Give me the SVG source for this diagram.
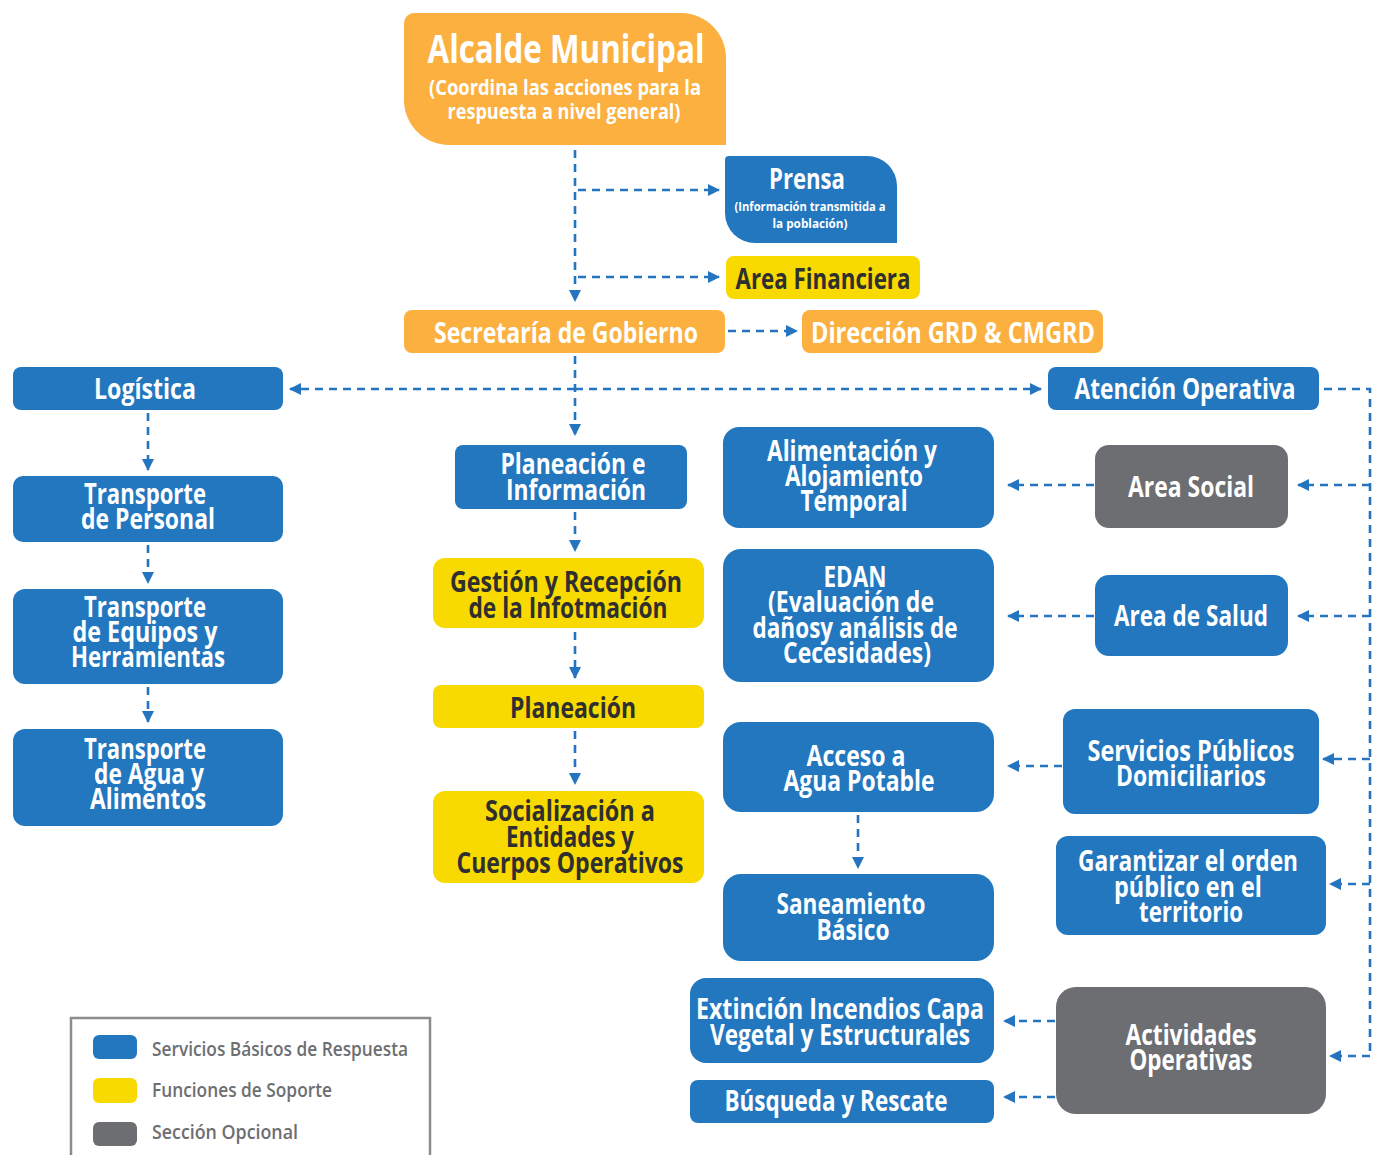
<svg xmlns="http://www.w3.org/2000/svg" width="1384" height="1155" viewBox="0 0 1384 1155">
<defs>
<style>
.t{font-family:"Open Sans","Noto Sans","DejaVu Sans",sans-serif;font-weight:700;text-anchor:middle;}
.w{fill:#ffffff;}
.d{fill:#2f2f2f;}
.f28{font-size:28px;}
.blue{fill:#2277bf;}
.orange{fill:#fbb040;}
.yellow{fill:#f8d900;}
.gray{fill:#6d6e71;}
.c{fill:none;stroke:#2474bf;stroke-width:2.6;stroke-dasharray:8 6;}
.leg{font-family:"Open Sans","Noto Sans","DejaVu Sans",sans-serif;font-weight:600;font-size:20px;fill:#6d6e71;}
</style>
<marker id="ah" markerUnits="userSpaceOnUse" markerWidth="12" markerHeight="12" refX="11" refY="6" orient="auto">
<path d="M0,0 L12,6 L0,12 Z" fill="#2474bf"/>
</marker>
</defs>
<rect width="1384" height="1155" fill="#ffffff"/>

<g id="connectors">
<path class="c" d="M575,150 V301" marker-end="url(#ah)"/>
<path class="c" d="M578,190 H719" marker-end="url(#ah)"/>
<path class="c" d="M578,277 H719" marker-end="url(#ah)"/>
<path class="c" d="M728,331 H797" marker-end="url(#ah)"/>
<path class="c" d="M575,356 V435" marker-end="url(#ah)"/>
<path class="c" d="M575,389 H290" marker-end="url(#ah)"/>
<path class="c" d="M575,389 H1041" marker-end="url(#ah)"/>
<path class="c" d="M1324,389 H1370 V1056"/>
<path class="c" d="M1370,485 H1298" marker-end="url(#ah)"/>
<path class="c" d="M1370,616 H1298" marker-end="url(#ah)"/>
<path class="c" d="M1370,759 H1323" marker-end="url(#ah)"/>
<path class="c" d="M1370,884 H1330" marker-end="url(#ah)"/>
<path class="c" d="M1370,1056 H1330" marker-end="url(#ah)"/>
<path class="c" d="M1094,485 H1008" marker-end="url(#ah)"/>
<path class="c" d="M1094,616 H1008" marker-end="url(#ah)"/>
<path class="c" d="M1062,766 H1008" marker-end="url(#ah)"/>
<path class="c" d="M858,815 V868" marker-end="url(#ah)"/>
<path class="c" d="M1055,1021 H1004" marker-end="url(#ah)"/>
<path class="c" d="M1055,1097 H1004" marker-end="url(#ah)"/>
<path class="c" d="M148,413 V470" marker-end="url(#ah)"/>
<path class="c" d="M148,545 V583" marker-end="url(#ah)"/>
<path class="c" d="M148,687 V722" marker-end="url(#ah)"/>
<path class="c" d="M575,512 V551" marker-end="url(#ah)"/>
<path class="c" d="M575,632 V678" marker-end="url(#ah)"/>
<path class="c" d="M575,731 V784" marker-end="url(#ah)"/>
</g>

<g id="alcalde">
<path class="orange" d="M414,13 H681 A45,45 0 0 1 726,58 V145 H449 A45,45 0 0 1 404,100 V23 A10,10 0 0 1 414,13 Z"/>
<text class="t w" x="566" y="63" font-size="39" textLength="277" lengthAdjust="spacingAndGlyphs">Alcalde Municipal</text>
<text class="t w" x="565" y="95" font-size="21" textLength="272" lengthAdjust="spacingAndGlyphs">(Coordina las acciones para la</text>
<text class="t w" x="564" y="119" font-size="21" textLength="233" lengthAdjust="spacingAndGlyphs">respuesta a nivel general)</text>
</g>

<g id="prensa">
<path class="blue" d="M729,156 H867 A30,30 0 0 1 897,186 V243 H755 A30,30 0 0 1 725,213 V160 A4,4 0 0 1 729,156 Z"/>
<text class="t w" x="807" y="189" font-size="28" textLength="76" lengthAdjust="spacingAndGlyphs">Prensa</text>
<text class="t w" x="810" y="211" font-size="13" textLength="151" lengthAdjust="spacingAndGlyphs">(Información transmitida a</text>
<text class="t w" x="810" y="228" font-size="13" textLength="75" lengthAdjust="spacingAndGlyphs">la población)</text>
</g>

<g id="area-financiera">
<rect class="yellow" x="726" y="256" width="194" height="43" rx="8"/>
<text class="t d f28" x="823" y="289" textLength="175" lengthAdjust="spacingAndGlyphs">Area Financiera</text>
</g>

<g id="secretaria">
<rect class="orange" x="404" y="310" width="321" height="43" rx="8"/>
<text class="t w f28" x="566" y="343" textLength="264" lengthAdjust="spacingAndGlyphs">Secretaría de Gobierno</text>
</g>

<g id="direccion">
<rect class="orange" x="802" y="310" width="301" height="43" rx="8"/>
<text class="t w f28" x="953" y="343" textLength="284" lengthAdjust="spacingAndGlyphs">Dirección GRD &amp; CMGRD</text>
</g>

<g id="logistica">
<rect class="blue" x="13" y="367" width="270" height="43" rx="8"/>
<text class="t w f28" x="145" y="399" textLength="102" lengthAdjust="spacingAndGlyphs">Logística</text>
</g>

<g id="atencion">
<rect class="blue" x="1048" y="367" width="271" height="43" rx="8"/>
<text class="t w f28" x="1185" y="399" textLength="221" lengthAdjust="spacingAndGlyphs">Atención Operativa</text>
</g>

<g id="planeacion-info">
<rect class="blue" x="455" y="445" width="232" height="64" rx="8"/>
<text class="t w f28" x="573" y="474" textLength="145" lengthAdjust="spacingAndGlyphs">Planeación e</text>
<text class="t w f28" x="576" y="500" textLength="140" lengthAdjust="spacingAndGlyphs">Información</text>
</g>

<g id="gestion">
<rect class="yellow" x="433" y="558" width="271" height="70" rx="12"/>
<text class="t d f28" x="566" y="592" textLength="232" lengthAdjust="spacingAndGlyphs">Gestión y Recepción</text>
<text class="t d f28" x="568" y="618" textLength="199" lengthAdjust="spacingAndGlyphs">de la Infotmación</text>
</g>

<g id="planeacion">
<rect class="yellow" x="433" y="685" width="271" height="43" rx="8"/>
<text class="t d f28" x="573" y="718" textLength="126" lengthAdjust="spacingAndGlyphs">Planeación</text>
</g>

<g id="socializacion">
<rect class="yellow" x="433" y="791" width="271" height="92" rx="12"/>
<text class="t d f28" x="570" y="821" textLength="170" lengthAdjust="spacingAndGlyphs">Socialización a</text>
<text class="t d f28" x="570" y="847" textLength="128" lengthAdjust="spacingAndGlyphs">Entidades y</text>
<text class="t d f28" x="570" y="873" textLength="227" lengthAdjust="spacingAndGlyphs">Cuerpos Operativos</text>
</g>

<g id="transporte-personal">
<rect class="blue" x="13" y="476" width="270" height="66" rx="10"/>
<text class="t w f28" x="145" y="504" textLength="122" lengthAdjust="spacingAndGlyphs">Transporte</text>
<text class="t w f28" x="148" y="529" textLength="134" lengthAdjust="spacingAndGlyphs">de Personal</text>
</g>

<g id="transporte-equipos">
<rect class="blue" x="13" y="589" width="270" height="95" rx="12"/>
<text class="t w f28" x="145" y="617" textLength="122" lengthAdjust="spacingAndGlyphs">Transporte</text>
<text class="t w f28" x="145" y="642" textLength="145" lengthAdjust="spacingAndGlyphs">de Equipos y</text>
<text class="t w f28" x="148" y="667" textLength="154" lengthAdjust="spacingAndGlyphs">Herramientas</text>
</g>

<g id="transporte-agua">
<rect class="blue" x="13" y="729" width="270" height="97" rx="12"/>
<text class="t w f28" x="145" y="759" textLength="122" lengthAdjust="spacingAndGlyphs">Transporte</text>
<text class="t w f28" x="149" y="784" textLength="110" lengthAdjust="spacingAndGlyphs">de Agua y</text>
<text class="t w f28" x="148" y="809" textLength="116" lengthAdjust="spacingAndGlyphs">Alimentos</text>
</g>

<g id="alimentacion">
<rect class="blue" x="723" y="427" width="271" height="101" rx="16"/>
<text class="t w f28" x="852" y="461" textLength="170" lengthAdjust="spacingAndGlyphs">Alimentación y</text>
<text class="t w f28" x="854" y="486" textLength="138" lengthAdjust="spacingAndGlyphs">Alojamiento</text>
<text class="t w f28" x="854" y="511" textLength="107" lengthAdjust="spacingAndGlyphs">Temporal</text>
</g>

<g id="edan">
<rect class="blue" x="723" y="549" width="271" height="133" rx="18"/>
<text class="t w f28" x="855" y="587" textLength="63" lengthAdjust="spacingAndGlyphs">EDAN</text>
<text class="t w f28" x="851" y="612" textLength="166" lengthAdjust="spacingAndGlyphs">(Evaluación de</text>
<text class="t w f28" x="855" y="638" textLength="205" lengthAdjust="spacingAndGlyphs">dañosy análisis de</text>
<text class="t w f28" x="857" y="663" textLength="148" lengthAdjust="spacingAndGlyphs">Cecesidades)</text>
</g>

<g id="acceso-agua">
<rect class="blue" x="723" y="722" width="271" height="90" rx="18"/>
<text class="t w f28" x="856" y="766" textLength="99" lengthAdjust="spacingAndGlyphs">Acceso a</text>
<text class="t w f28" x="859" y="791" textLength="151" lengthAdjust="spacingAndGlyphs">Agua Potable</text>
</g>

<g id="saneamiento">
<rect class="blue" x="723" y="874" width="271" height="87" rx="18"/>
<text class="t w f28" x="851" y="914" textLength="149" lengthAdjust="spacingAndGlyphs">Saneamiento</text>
<text class="t w f28" x="853" y="940" textLength="73" lengthAdjust="spacingAndGlyphs">Básico</text>
</g>

<g id="extincion">
<rect class="blue" x="690" y="978" width="304" height="85" rx="16"/>
<text class="t w f28" x="840" y="1019" textLength="288" lengthAdjust="spacingAndGlyphs">Extinción Incendios Capa</text>
<text class="t w f28" x="840" y="1045" textLength="260" lengthAdjust="spacingAndGlyphs">Vegetal y Estructurales</text>
</g>

<g id="busqueda">
<rect class="blue" x="690" y="1080" width="304" height="43" rx="8"/>
<text class="t w f28" x="836" y="1111" textLength="223" lengthAdjust="spacingAndGlyphs">Búsqueda y Rescate</text>
</g>

<g id="area-social">
<rect class="gray" x="1095" y="445" width="193" height="83" rx="14"/>
<text class="t w f28" x="1191" y="497" textLength="126" lengthAdjust="spacingAndGlyphs">Area Social</text>
</g>

<g id="area-salud">
<rect class="blue" x="1095" y="575" width="193" height="81" rx="14"/>
<text class="t w f28" x="1191" y="626" textLength="154" lengthAdjust="spacingAndGlyphs">Area de Salud</text>
</g>

<g id="servicios-publicos">
<rect class="blue" x="1063" y="709" width="256" height="105" rx="12"/>
<text class="t w f28" x="1191" y="761" textLength="207" lengthAdjust="spacingAndGlyphs">Servicios Públicos</text>
<text class="t w f28" x="1191" y="786" textLength="150" lengthAdjust="spacingAndGlyphs">Domiciliarios</text>
</g>

<g id="garantizar">
<rect class="blue" x="1056" y="836" width="270" height="99" rx="12"/>
<text class="t w f28" x="1188" y="871" textLength="220" lengthAdjust="spacingAndGlyphs">Garantizar el orden</text>
<text class="t w f28" x="1188" y="897" textLength="148" lengthAdjust="spacingAndGlyphs">público en el</text>
<text class="t w f28" x="1191" y="922" textLength="104" lengthAdjust="spacingAndGlyphs">territorio</text>
</g>

<g id="actividades">
<rect class="gray" x="1056" y="987" width="270" height="127" rx="20"/>
<text class="t w f28" x="1191" y="1045" textLength="131" lengthAdjust="spacingAndGlyphs">Actividades</text>
<text class="t w f28" x="1191" y="1070" textLength="123" lengthAdjust="spacingAndGlyphs">Operativas</text>
</g>

<g id="legend">
<rect x="71" y="1018" width="359" height="160" fill="none" stroke="#8c8c8c" stroke-width="2.5"/>
<rect class="blue" x="93" y="1035" width="44" height="24" rx="6"/>
<rect class="yellow" x="93" y="1078" width="44" height="25" rx="6"/>
<rect class="gray" x="93" y="1122" width="44" height="24" rx="6"/>
<text class="leg" x="152" y="1056" textLength="256" lengthAdjust="spacingAndGlyphs">Servicios Básicos de Respuesta</text>
<text class="leg" x="152" y="1097" textLength="180" lengthAdjust="spacingAndGlyphs">Funciones de Soporte</text>
<text class="leg" x="152" y="1139" textLength="146" lengthAdjust="spacingAndGlyphs">Sección Opcional</text>
</g>
</svg>
